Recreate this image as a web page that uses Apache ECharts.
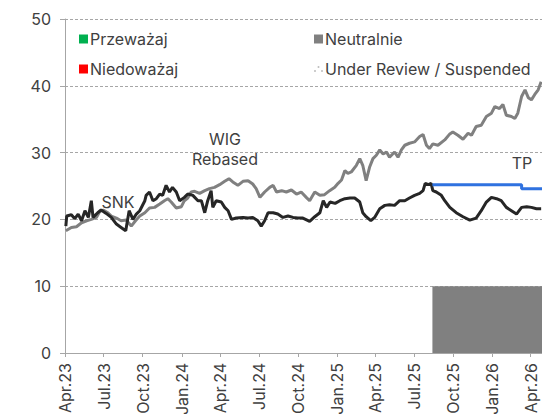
<!DOCTYPE html>
<html>
<head>
<meta charset="utf-8">
<script src="https://cdn.jsdelivr.net/npm/echarts@6/dist/echarts.min.js"></script>
<style>
html,body{margin:0;padding:0;background:#fff;}
#chart{width:542px;height:414px;}
</style>
</head>
<body>
<div id="chart"></div>
<script>
// ---- data ----
const xTickDates = ['2023-04-01','2023-07-01','2023-10-01','2024-01-01','2024-04-01','2024-07-01','2024-10-01','2025-01-01','2025-04-01','2025-07-01','2025-10-01','2026-01-01','2026-04-01'];
const xTickLabels = ['Apr.23','Jul.23','Oct.23','Jan.24','Apr.24','Jul.24','Oct.24','Jan.25','Apr.25','Jul.25','Oct.25','Jan.26','Apr.26'];
const xStart = '2023-04-01';
const xEnd = '2026-04-28';
const yTicks = [0, 10, 20, 30, 40, 50];

const snk = [
['2023-04-03',19.0],['2023-04-05',20.5],['2023-04-16',20.7],['2023-04-24',20.1],['2023-05-02',20.8],['2023-05-10',19.8],
['2023-05-18',21.3],['2023-05-26',20.3],['2023-06-02',22.8],['2023-06-06',20.3],['2023-06-17',21.0],['2023-06-25',21.4],
['2023-07-07',20.9],['2023-07-19',20.3],['2023-07-31',19.3],['2023-08-11',18.8],['2023-08-22',18.3],['2023-08-30',21.3],
['2023-09-08',20.0],['2023-09-16',20.8],['2023-09-24',21.3],['2023-10-06',22.8],['2023-10-09',23.6],['2023-10-17',24.1],
['2023-10-25',22.8],['2023-11-02',23.1],['2023-11-10',23.8],['2023-11-17',23.6],['2023-11-25',25.1],['2023-12-03',24.1],
['2023-12-10',24.8],['2023-12-19',24.1],['2023-12-27',22.8],['2024-01-07',23.3],['2024-01-15',23.8],['2024-01-27',23.6],
['2024-02-08',22.8],['2024-02-16',22.8],['2024-02-24',21.0],['2024-03-02',22.8],['2024-03-10',24.3],['2024-03-14',21.8],
['2024-03-22',22.8],['2024-04-03',22.6],['2024-04-11',21.8],['2024-04-19',21.3],['2024-04-27',20.0],['2024-05-08',20.2],
['2024-05-24',20.3],['2024-06-05',20.2],['2024-06-16',20.3],['2024-06-28',19.8],['2024-07-06',19.0],['2024-07-14',19.8],
['2024-07-22',21.0],['2024-08-03',21.0],['2024-08-14',20.8],['2024-08-26',20.3],['2024-09-07',20.5],['2024-09-19',20.3],
['2024-09-30',20.2],['2024-10-12',20.2],['2024-10-28',19.7],['2024-11-09',20.4],['2024-11-21',21.0],['2024-11-29',22.8],
['2024-12-07',21.8],['2024-12-15',22.6],['2024-12-27',22.4],['2025-01-07',22.8],['2025-01-19',23.1],['2025-01-31',23.2],
['2025-02-11',23.2],['2025-02-23',22.6],['2025-03-02',21.0],['2025-03-10',20.4],['2025-03-21',19.8],['2025-03-30',20.3],
['2025-04-11',21.6],['2025-04-23',22.1],['2025-05-04',22.2],['2025-05-16',22.1],['2025-05-28',22.8],['2025-06-09',22.8],
['2025-06-20',23.2],['2025-07-02',23.6],['2025-07-14',23.9],['2025-07-22',24.3],['2025-07-27',25.4],['2025-08-04',25.2],
['2025-08-10',25.4],['2025-08-14',24.3],['2025-08-22',24.1],['2025-09-03',23.6],['2025-09-11',22.8],['2025-09-23',21.8],
['2025-10-08',21.0],['2025-10-24',20.4],['2025-11-09',19.9],['2025-11-24',20.2],['2025-12-06',21.3],['2025-12-18',22.6],
['2025-12-30',23.3],['2026-01-11',23.1],['2026-01-22',22.8],['2026-02-03',21.8],['2026-02-15',21.3],['2026-02-27',20.8],
['2026-03-11',21.8],['2026-03-23',21.9],['2026-04-03',21.8],['2026-04-15',21.6],['2026-04-26',21.6]
];

const wig = [
['2023-04-03',18.3],['2023-04-16',18.8],['2023-04-28',18.9],['2023-05-10',19.5],['2023-05-22',19.8],['2023-06-02',20.0],
['2023-06-14',20.3],['2023-06-22',21.2],['2023-06-30',21.4],['2023-07-11',21.0],['2023-07-19',20.5],['2023-07-31',20.2],
['2023-08-11',19.8],['2023-08-23',19.9],['2023-09-04',19.0],['2023-09-14',19.8],['2023-09-24',20.5],['2023-10-06',21.0],
['2023-10-17',21.7],['2023-10-29',21.8],['2023-11-10',22.3],['2023-11-21',22.8],['2023-11-29',23.1],['2023-12-07',22.6],
['2023-12-19',21.7],['2023-12-31',21.9],['2024-01-07',22.8],['2024-01-15',23.2],['2024-01-23',24.1],['2024-01-31',24.2],
['2024-02-12',23.9],['2024-02-24',24.3],['2024-03-06',24.6],['2024-03-18',24.8],['2024-03-30',25.2],['2024-04-11',25.7],
['2024-04-21',26.1],['2024-04-30',25.6],['2024-05-12',25.1],['2024-05-24',25.7],['2024-06-05',25.8],['2024-06-16',25.3],
['2024-06-24',24.6],['2024-07-03',23.3],['2024-07-14',24.1],['2024-07-26',24.8],['2024-08-03',25.1],['2024-08-11',24.1],
['2024-08-23',24.3],['2024-09-03',24.1],['2024-09-15',24.4],['2024-09-27',23.8],['2024-10-08',24.1],['2024-10-20',23.3],
['2024-10-28',22.8],['2024-11-09',24.1],['2024-11-21',23.6],['2024-12-02',23.7],['2024-12-14',24.3],['2024-12-26',24.8],
['2025-01-03',25.4],['2025-01-11',25.9],['2025-01-19',27.3],['2025-01-26',26.9],['2025-02-03',27.1],['2025-02-15',28.1],
['2025-02-23',29.1],['2025-03-02',28.1],['2025-03-10',25.8],['2025-03-18',27.8],['2025-03-26',29.1],['2025-04-03',29.6],
['2025-04-11',30.4],['2025-04-19',29.8],['2025-04-27',30.1],['2025-05-04',29.3],['2025-05-16',30.1],['2025-05-24',29.3],
['2025-06-01',30.4],['2025-06-09',31.1],['2025-06-20',31.4],['2025-07-02',31.6],['2025-07-14',32.4],['2025-07-22',32.7],
['2025-07-30',31.1],['2025-08-06',30.6],['2025-08-14',31.3],['2025-08-26',31.1],['2025-09-11',31.9],['2025-09-23',32.8],
['2025-09-30',33.1],['2025-10-12',32.6],['2025-10-24',32.0],['2025-11-05',32.9],['2025-11-13',32.6],['2025-11-24',33.9],
['2025-12-06',34.1],['2025-12-18',35.4],['2025-12-30',35.9],['2026-01-07',36.9],['2026-01-18',36.6],['2026-01-26',37.2],
['2026-02-03',35.6],['2026-02-15',35.4],['2026-02-23',35.1],['2026-03-02',35.9],['2026-03-11',38.4],['2026-03-19',39.4],
['2026-03-27',38.2],['2026-04-03',37.9],['2026-04-11',38.7],['2026-04-19',39.4],['2026-04-26',40.6]
];

const tp = [['2025-08-13',25.2],['2026-03-11',24.6],['2026-04-28',24.6]];
const ratingNeutral = [['2025-08-13',10],['2026-04-28',10]];

const legendLeft = ['Przeważaj','Niedoważaj'];
const legendRight = ['Neutralnie','Under Review / Suspended'];

// ---- chart ----
const FONT = 'Inter';
const TXT = '#404040';
const AX = '#a6a6a6';
function ts(s){ const p = s.split('-').map(Number); return Date.UTC(p[0], p[1]-1, p[2]); }
function toXY(arr){ return arr.map(function(d){ return [ts(d[0]), d[1]]; }); }
const tickTs = xTickDates.map(ts);

const chart = echarts.init(document.getElementById('chart'), null, {renderer:'svg'});
const dotsIcon = 'path://M0,8a1,1 0 1,0 2,0a1,1 0 1,0 -2,0Z M3.5,4a1,1 0 1,0 2,0a1,1 0 1,0 -2,0Z M7,8a1,1 0 1,0 2,0a1,1 0 1,0 -2,0Z';

const legendBase = {
  orient:'vertical', top:31, padding:0, itemWidth:9, itemHeight:9, itemGap:14, selectedMode:false,
  textStyle:{fontFamily:FONT, fontSize:16, color:TXT, lineHeight:16, padding:[0,0,0,-3]}
};

chart.setOption({
  animation:false,
  backgroundColor:'#fff',
  grid:{left:65, right:0, top:19, bottom:61, outerBoundsMode:'none', containLabel:false},
  legend:[
    Object.assign({}, legendBase, {left:79, data:[{name:legendLeft[0], icon:'rect'},{name:legendLeft[1], icon:'rect'}]}),
    Object.assign({}, legendBase, {left:314, data:[{name:legendRight[0], icon:'rect'},{name:legendRight[1], icon:dotsIcon}]})
  ],
  xAxis:{
    type:'value', min:ts(xStart), max:ts(xEnd),
    axisLine:{lineStyle:{color:AX, width:1}},
    axisTick:{show:true, customValues:tickTs, length:4, lineStyle:{color:AX}},
    axisLabel:{customValues:tickTs, rotate:90, margin:10, fontFamily:FONT, fontSize:16, color:TXT,
      formatter:function(v){ const i = tickTs.indexOf(+v); return i >= 0 ? xTickLabels[i] : ''; }},
    splitLine:{show:false}
  },
  yAxis:{
    type:'value', min:yTicks[0], max:yTicks[yTicks.length-1], interval:10,
    axisLine:{show:true, lineStyle:{color:AX, width:1}},
    axisTick:{show:true, length:5, lineStyle:{color:AX}},
    axisLabel:{margin:14, fontFamily:FONT, fontSize:16, color:TXT},
    splitLine:{show:true, lineStyle:{type:[3,2], color:AX, width:1}}
  },
  series:[
    {name:'Przeważaj', type:'bar', data:[], itemStyle:{color:'#00b050'}},
    {name:'Niedoważaj', type:'bar', data:[], itemStyle:{color:'#ff0000'}},
    {name:'Neutralnie', type:'line', data:toXY(ratingNeutral), symbol:'none', step:'end',
      lineStyle:{width:0}, itemStyle:{color:'#808080'}, areaStyle:{color:'#808080', opacity:1}, z:1},
    {name:'Under Review / Suspended', type:'bar', data:[], itemStyle:{color:'#bdbdbd'}},
    {name:'WIG Rebased', type:'line', data:toXY(wig), symbol:'none', lineStyle:{color:'#808080', width:3}, z:3},
    {name:'SNK', type:'line', data:toXY(snk), symbol:'none', lineStyle:{color:'#262626', width:3}, z:4},
    {name:'TP', type:'line', data:toXY(tp), symbol:'none', step:'end', lineStyle:{color:'#2f72e0', width:3}, z:5}
  ],
  graphic:[
    {type:'text', style:{text:'WIG\nRebased', x:225, y:149, align:'center', verticalAlign:'middle', font:'16px '+FONT, fill:TXT, lineHeight:20}},
    {type:'text', style:{text:'SNK', x:118, y:202, align:'center', verticalAlign:'middle', font:'16px '+FONT, fill:TXT}},
    {type:'text', style:{text:'TP', x:522, y:163, align:'center', verticalAlign:'middle', font:'16px '+FONT, fill:TXT}}
  ]
});
</script>
</body>
</html>
